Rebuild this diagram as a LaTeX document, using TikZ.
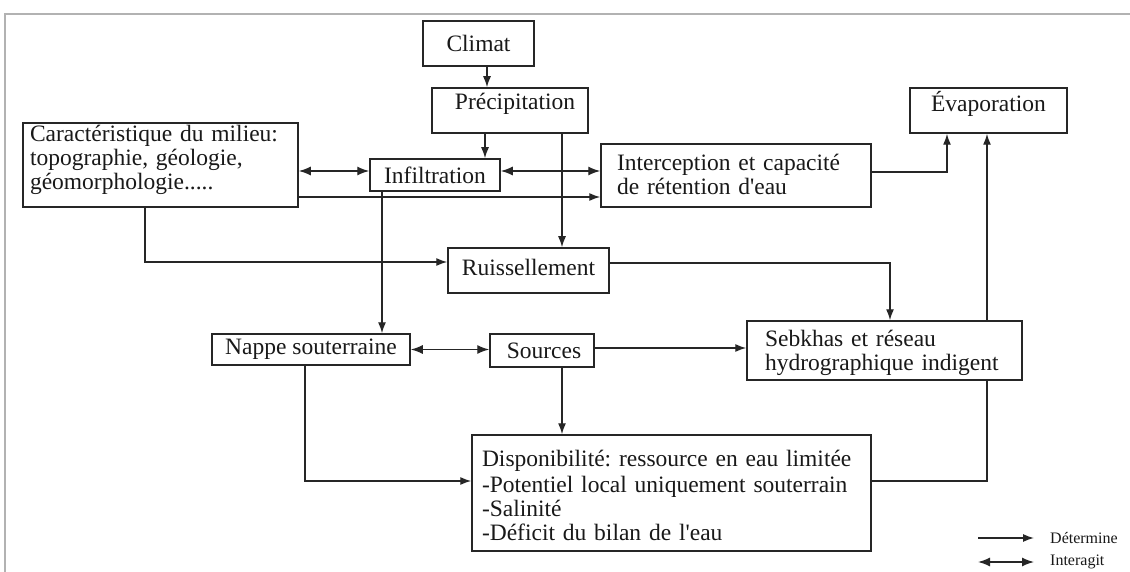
\documentclass[tikz,border=0pt]{standalone}
\usepackage{fontspec}
\setmainfont{Liberation Serif}[Ligatures=TeXOff]
\usetikzlibrary{arrows.meta}
\newcommand\upby[2]{\raisebox{#1}[\height][\depth]{#2}}
\frenchspacing
\begin{document}
\begin{tikzpicture}[x=1pt,y=1pt,
  box/.style={draw=black!85, line width=1.5pt, inner sep=0pt, font=\fontsize{23.5}{24}\selectfont, text=black!90},
  det/.style={draw=black!85, line width=1.4pt, -{Latex[length=11pt,width=8pt]}},
  inter/.style={draw=black!85, line width=1.4pt, {Latex[length=12pt,width=9pt]}-{Latex[length=12pt,width=9pt]}},
  plain/.style={draw=black!85, line width=1.4pt},
  legtext/.style={anchor=west, inner sep=0pt, font=\fontsize{16}{18}\selectfont, text=black!90}
]
\useasboundingbox[fill=white] (0,0) rectangle (1130,-572);
\draw[gray!60, line width=1.5pt] (5,-572) -- (5,-14) -- (1130,-14);

% boxes
\node[box, minimum width=111pt, minimum height=45pt] (climat) at (478.5,-43.5) {Climat};
\node[box, minimum width=156pt, minimum height=45pt] (precip) at (510,-110.5) {\upby{6.5pt}{\hspace{10pt}Précipitation}};
\node[box, minimum width=157pt, minimum height=45pt] (evap) at (988.5,-110.5) {\upby{7pt}{Évaporation}};
\node[box, minimum width=275pt, minimum height=84pt, text width=261pt, inner xsep=7pt, align=left] (caract) at (160.5,-165)
  {\upby{4pt}{\begin{tabular}{@{}l@{}}Caractéristique du milieu:\\ topographie, géologie,\\ géomorphologie.....\end{tabular}}};
\node[box, minimum width=130pt, minimum height=32pt] (infil) at (435,-175) {Infiltration};
\node[box, minimum width=270pt, minimum height=63pt, text width=238pt, inner xsep=16pt, align=left] (interc) at (736,-175.5)
  {\upby{-2.5pt}{\begin{tabular}{@{}l@{}}Interception et capacité\\ de rétention d'eau\end{tabular}}};
\node[box, minimum width=161pt, minimum height=45pt] (ruiss) at (528.5,-270.5) {\upby{3pt}{Ruissellement}};
\node[box, minimum width=198pt, minimum height=31pt] (nappe) at (311,-349.5) {Nappe souterraine};
\node[box, minimum width=104pt, minimum height=33pt] (sources) at (542,-350.5) {\hspace{4pt}Sources};
\node[box, minimum width=275pt, minimum height=59pt, text width=239pt, inner xsep=18pt, align=left] (sebkhas) at (884.5,-350.5)
  {\upby{-3pt}{\begin{tabular}{@{}l@{}}Sebkhas et réseau\\ hydrographique indigent\end{tabular}}};
\node[box, minimum width=399pt, minimum height=116pt, text width=379pt, inner xsep=10pt, align=left] (dispo) at (671.5,-493)
  {\upby{-6pt}{\begin{tabular}{@{}l@{}}Disponibilité: ressource en eau limitée\\[2pt] -Potentiel local uniquement souterrain\\ -Salinité\\ -Déficit du bilan de l'eau\end{tabular}}};

% connectors
\draw[det] ([xshift=8.5pt]climat.south) -- ([xshift=8.5pt]climat.south |- precip.north);
\draw[det] ([xshift=-25pt]precip.south) -- ([xshift=-25pt]precip.south |- infil.north);
\draw[det] ([xshift=52pt]precip.south) -- ([xshift=52pt]precip.south |- ruiss.north);
\draw[inter] ([yshift=-6pt]caract.east) -- ([yshift=-6pt]caract.east -| infil.west);
\draw[inter] ([yshift=4pt]infil.east) -- ([yshift=4pt]infil.east -| interc.west);
\draw[det] ([yshift=-32pt]caract.east) -- ([yshift=-32pt]caract.east -| interc.west);
\draw[det] ([yshift=3.5pt]interc.east) -| ([xshift=-41.5pt]evap.south);
\draw[det] ([xshift=-15.5pt]caract.south) |- ([yshift=8.5pt]ruiss.west);
\draw[det] ([xshift=-53pt]infil.south) -- ([xshift=-53pt]infil.south |- nappe.north);
\draw[det] ([yshift=7.5pt]ruiss.east) -| ([xshift=5.5pt]sebkhas.north);
\draw[inter] (nappe.east) -- (nappe.east -| sources.west);
\draw[det] ([yshift=2.5pt]sources.east) -- ([yshift=2.5pt]sources.east -| sebkhas.west);
\draw[det] ([xshift=20pt]sources.south) -- ([xshift=20pt]sources.south |- dispo.north);
\draw[det] ([xshift=-6pt]nappe.south) |- ([yshift=12pt]dispo.west);
\draw[plain] ([yshift=12pt]dispo.east) -| ([xshift=102.5pt]sebkhas.south);
\draw[det] ([xshift=102.5pt]sebkhas.north) -- ([xshift=102.5pt]sebkhas.north |- evap.south);

% legend
\node[legtext] (ldet) at (1050,-538) {Détermine};
\node[legtext] (lint) at (1050,-562) {Interagit};
\coordinate (ldstart) at (978,-538);
\coordinate (listart) at (978,-562);
\draw[det] (ldstart) -- ([xshift=-16pt]ldet.west);
\draw[inter] (listart) -- ([xshift=-16pt]lint.west);
\end{tikzpicture}
\end{document}
